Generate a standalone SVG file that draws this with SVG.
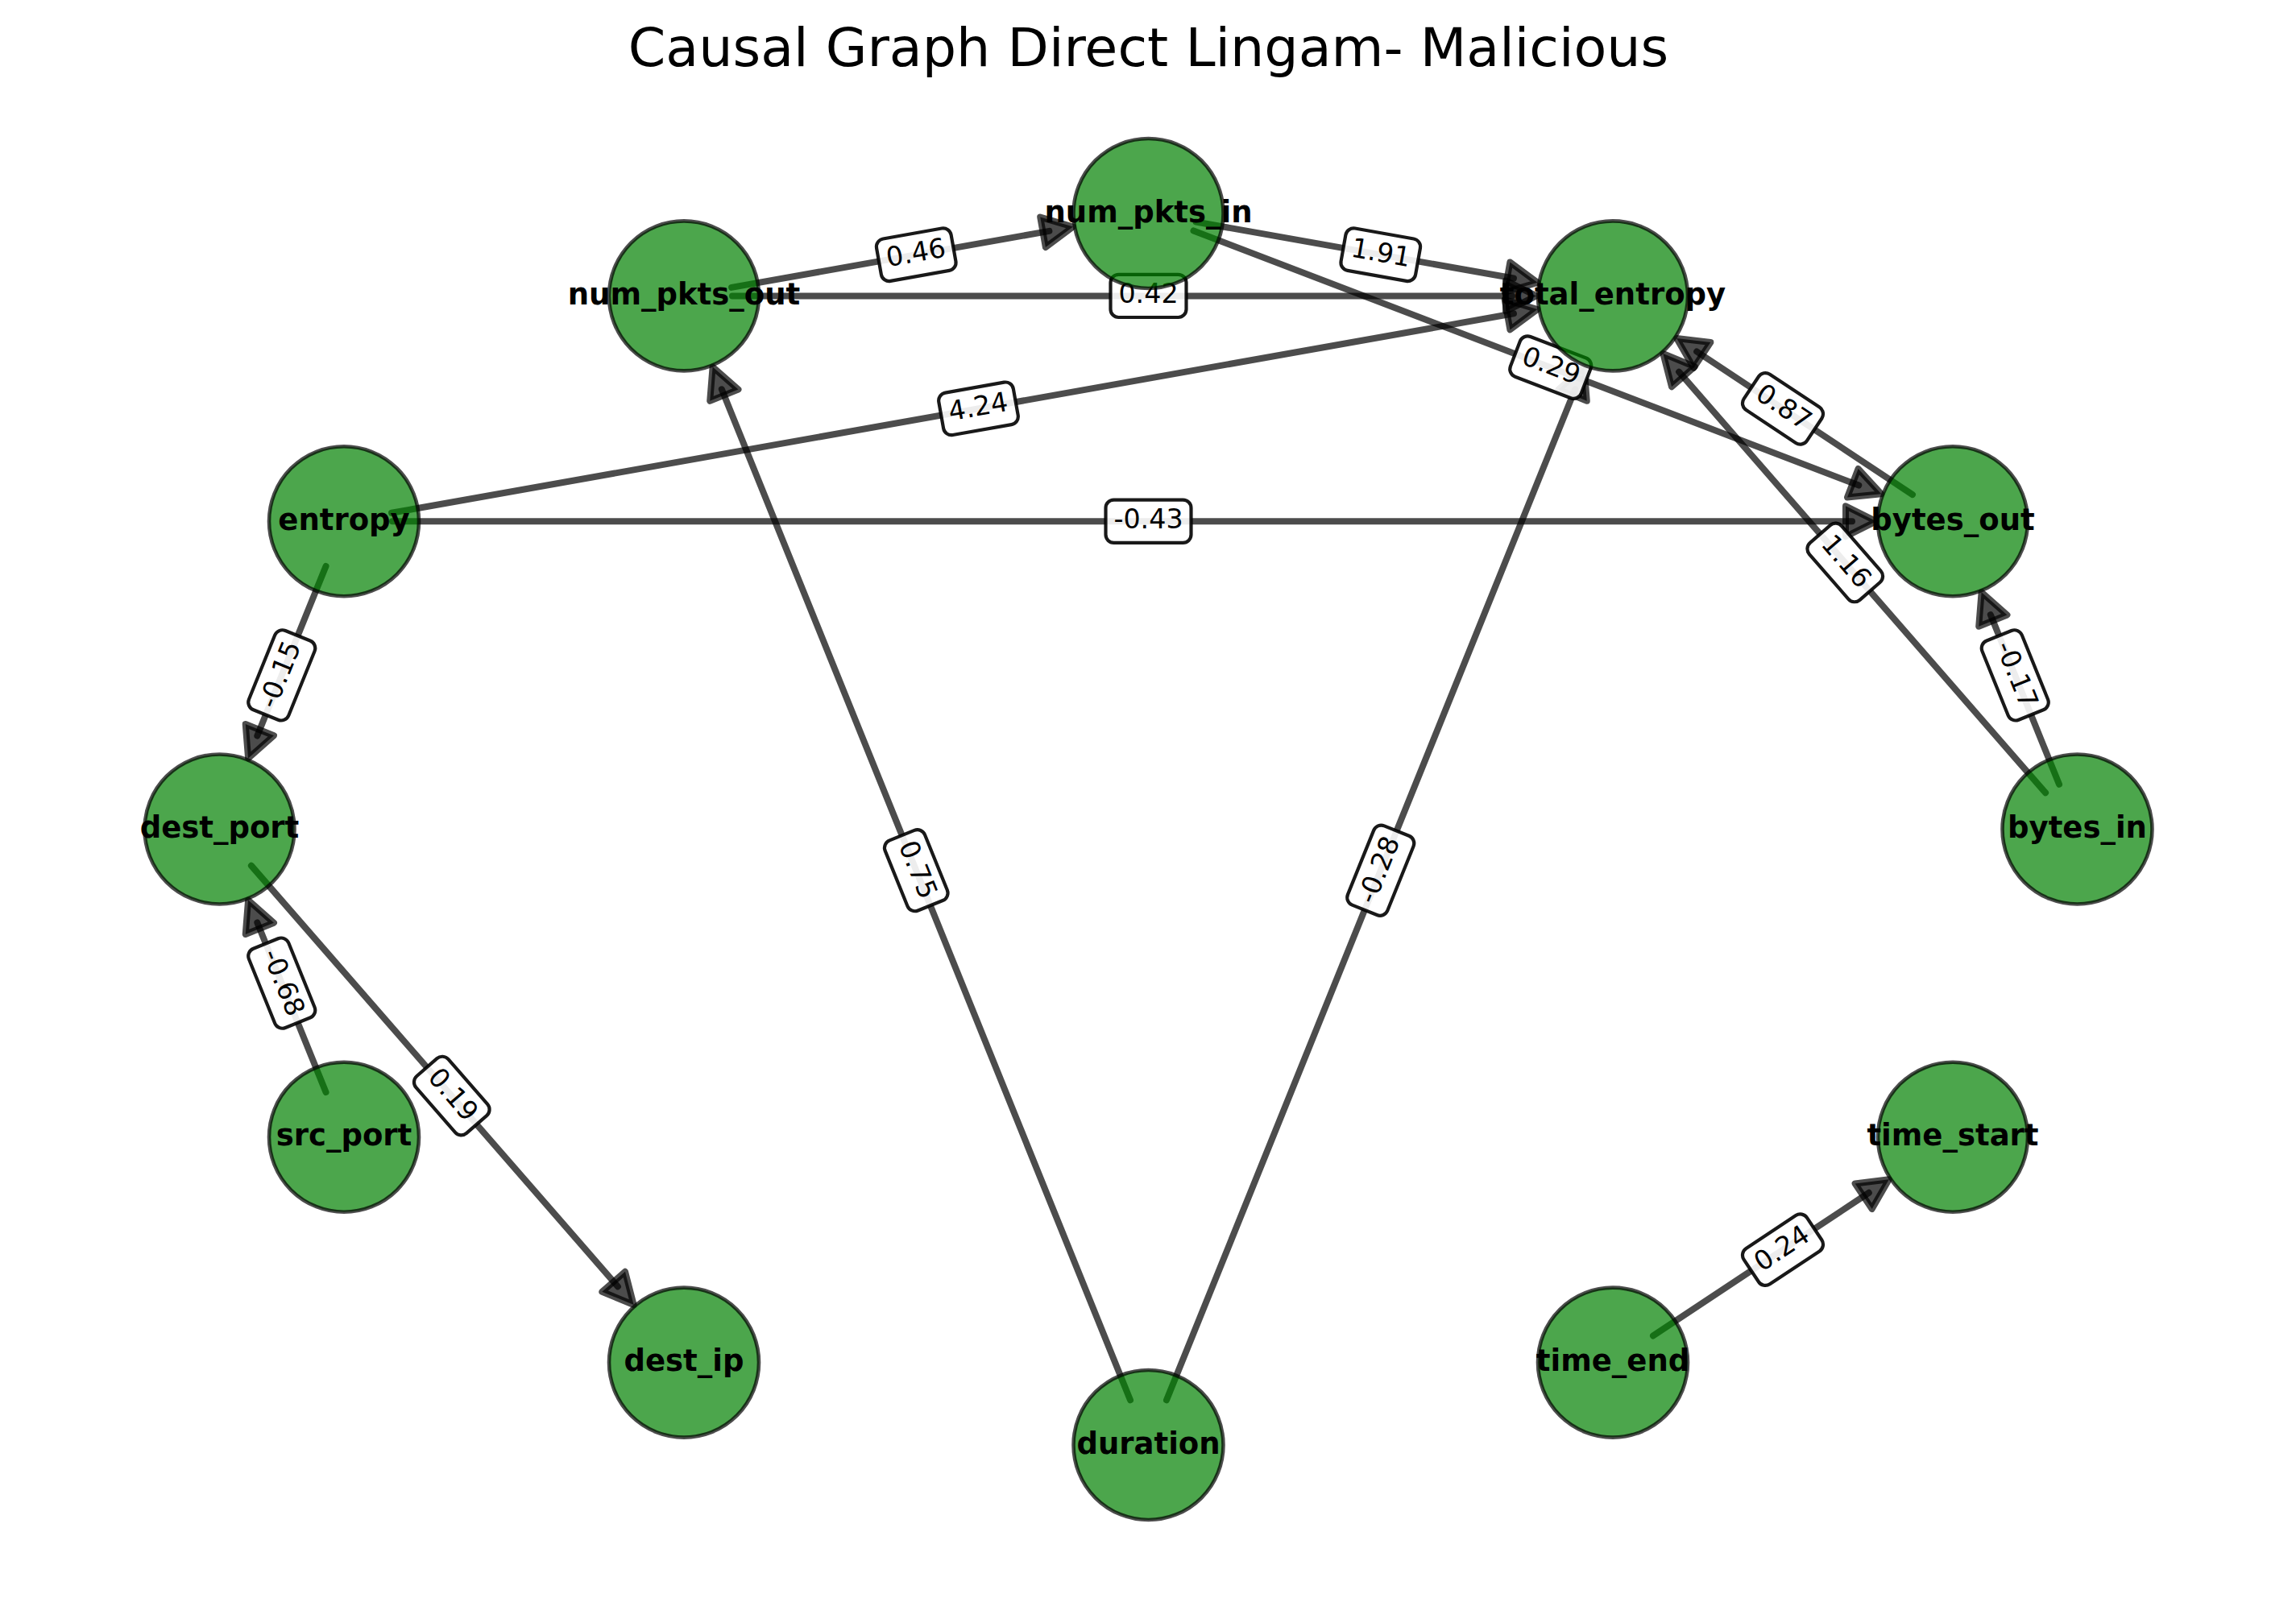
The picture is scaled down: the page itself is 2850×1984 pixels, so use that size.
<svg xmlns="http://www.w3.org/2000/svg" width="2850" height="1984" viewBox="0 0 2850 1984">
<style>
.edge{fill:none;stroke:#000;stroke-opacity:0.7;stroke-width:8;stroke-linecap:round;marker-end:url(#arr)}
.lbox{fill:#fff;fill-opacity:0.9;stroke:#000;stroke-width:4.2;stroke-opacity:0.9}
.ltxt{font-family:"DejaVu Sans",sans-serif;font-size:33.3px;fill:#000;text-anchor:middle}
.node{fill:#008000;fill-opacity:0.7;stroke:#000;stroke-opacity:0.7;stroke-width:4.6}
.ntxt{font-family:"DejaVu Sans",sans-serif;font-size:37px;font-weight:bold;fill:#000;text-anchor:middle}
.title{font-family:"DejaVu Sans",sans-serif;font-size:66.7px;fill:#000;text-anchor:middle}
</style>
<defs>
<marker id="arr" markerUnits="userSpaceOnUse" viewBox="-10 -30 60 60" markerWidth="60" markerHeight="60" refX="8" refY="0" orient="auto" overflow="visible">
<path d="M0,-19 L38,0 L0,19 Z" fill="#000" fill-opacity="0.7" stroke="#000" stroke-opacity="0.7" stroke-width="8" stroke-linejoin="round"/>
</marker>
</defs>
<rect width="2850" height="1984" fill="#fff"/>
<text class="title" x="1425.5" y="82">Causal Graph Direct Lingam- Malicious</text>
<g id="edges">
<line class="edge" x1="908.08" y1="356.92" x2="1302.42" y2="286.87"/>
<line class="edge" x1="1484.58" y1="275.50" x2="1878.92" y2="345.55"/>
<line class="edge" x1="909" y1="367.42" x2="1877" y2="367.42"/>
<line class="edge" x1="1481.53" y1="286.45" x2="2307.26" y2="602.56"/>
<line class="edge" x1="486.07" y1="636.75" x2="1878.93" y2="389.29"/>
<line class="edge" x1="2373.99" y1="614.09" x2="2106.18" y2="436.50"/>
<line class="edge" x1="2539.10" y1="984.25" x2="2084.09" y2="461.69"/>
<line class="edge" x1="487" y1="647.25" x2="2299" y2="647.25"/>
<line class="edge" x1="2556.02" y1="973.87" x2="2470.84" y2="763.14"/>
<line class="edge" x1="404.52" y1="702.88" x2="319.34" y2="913.61"/>
<line class="edge" x1="404.52" y1="1356.12" x2="319.34" y2="1145.39"/>
<line class="edge" x1="311.90" y1="1074.75" x2="766.91" y2="1597.33"/>
<line class="edge" x1="1403.02" y1="1738.37" x2="895.84" y2="483.32"/>
<line class="edge" x1="1447.98" y1="1738.37" x2="1955.16" y2="483.32"/>
<line class="edge" x1="2052.01" y1="1658.44" x2="2319.82" y2="1480.84"/>
</g>
<g id="edge-labels">
<g transform="translate(1137.25,316.21) rotate(-10.07)"><rect class="lbox" x="-47" y="-26.6" width="94" height="53.2" rx="10"/><text class="ltxt" y="8.7">0.46</text></g>
<g transform="translate(1713.75,316.21) rotate(10.07)"><rect class="lbox" x="-47" y="-26.6" width="94" height="53.2" rx="10"/><text class="ltxt" y="8.7">1.91</text></g>
<g transform="translate(1425.5,367.42)"><rect class="lbox" x="-47" y="-26.6" width="94" height="53.2" rx="10"/><text class="ltxt" y="8.7">0.42</text></g>
<g transform="translate(1924.75,456.13) rotate(20.95)"><rect class="lbox" x="-47" y="-26.6" width="94" height="53.2" rx="10"/><text class="ltxt" y="8.7">0.29</text></g>
<g transform="translate(1214.5,507.34) rotate(-10.07)"><rect class="lbox" x="-47" y="-26.6" width="94" height="53.2" rx="10"/><text class="ltxt" y="8.7">4.24</text></g>
<g transform="translate(2213,507.34) rotate(33.55)"><rect class="lbox" x="-47" y="-26.6" width="94" height="53.2" rx="10"/><text class="ltxt" y="8.7">0.87</text></g>
<g transform="translate(2290.25,698.46) rotate(48.95)"><rect class="lbox" x="-47" y="-26.6" width="94" height="53.2" rx="10"/><text class="ltxt" y="8.7">1.16</text></g>
<g transform="translate(1425.5,647.25)"><rect class="lbox" x="-53" y="-26.6" width="106" height="53.2" rx="10"/><text class="ltxt" y="8.7">-0.43</text></g>
<g transform="translate(2501.25,838.38) rotate(67.99)"><rect class="lbox" x="-53" y="-26.6" width="106" height="53.2" rx="10"/><text class="ltxt" y="8.7">-0.17</text></g>
<g transform="translate(349.75,838.38) rotate(-67.99)"><rect class="lbox" x="-53" y="-26.6" width="106" height="53.2" rx="10"/><text class="ltxt" y="8.7">-0.15</text></g>
<g transform="translate(349.75,1220.63) rotate(67.99)"><rect class="lbox" x="-53" y="-26.6" width="106" height="53.2" rx="10"/><text class="ltxt" y="8.7">-0.68</text></g>
<g transform="translate(560.75,1360.54) rotate(48.95)"><rect class="lbox" x="-47" y="-26.6" width="94" height="53.2" rx="10"/><text class="ltxt" y="8.7">0.19</text></g>
<g transform="translate(1137.25,1080.71) rotate(67.99)"><rect class="lbox" x="-47" y="-26.6" width="94" height="53.2" rx="10"/><text class="ltxt" y="8.7">0.75</text></g>
<g transform="translate(1713.75,1080.71) rotate(-67.99)"><rect class="lbox" x="-53" y="-26.6" width="106" height="53.2" rx="10"/><text class="ltxt" y="8.7">-0.28</text></g>
<g transform="translate(2213,1551.67) rotate(-33.55)"><rect class="lbox" x="-47" y="-26.6" width="94" height="53.2" rx="10"/><text class="ltxt" y="8.7">0.24</text></g>
</g>
<g id="node-bytes_in"><circle class="node" cx="2578.5" cy="1029.5" r="93"/><text class="ntxt" x="2578.5" y="1040">bytes_in</text></g>
<g id="node-bytes_out"><circle class="node" cx="2424" cy="647.25" r="93"/><text class="ntxt" x="2424" y="657.75">bytes_out</text></g>
<g id="node-total_entropy"><circle class="node" cx="2002" cy="367.42" r="93"/><text class="ntxt" x="2002" y="377.92">total_entropy</text></g>
<g id="node-num_pkts_in"><circle class="node" cx="1425.5" cy="265" r="93"/><text class="ntxt" x="1425.5" y="275.5">num_pkts_in</text></g>
<g id="node-num_pkts_out"><circle class="node" cx="849" cy="367.42" r="93"/><text class="ntxt" x="849" y="377.92">num_pkts_out</text></g>
<g id="node-entropy"><circle class="node" cx="427" cy="647.25" r="93"/><text class="ntxt" x="427" y="657.75">entropy</text></g>
<g id="node-dest_port"><circle class="node" cx="272.5" cy="1029.5" r="93"/><text class="ntxt" x="272.5" y="1040">dest_port</text></g>
<g id="node-src_port"><circle class="node" cx="427" cy="1411.75" r="93"/><text class="ntxt" x="427" y="1422.25">src_port</text></g>
<g id="node-dest_ip"><circle class="node" cx="849" cy="1691.58" r="93"/><text class="ntxt" x="849" y="1702.08">dest_ip</text></g>
<g id="node-duration"><circle class="node" cx="1425.5" cy="1794" r="93"/><text class="ntxt" x="1425.5" y="1804.5">duration</text></g>
<g id="node-time_end"><circle class="node" cx="2002" cy="1691.58" r="93"/><text class="ntxt" x="2002" y="1702.08">time_end</text></g>
<g id="node-time_start"><circle class="node" cx="2424" cy="1411.75" r="93"/><text class="ntxt" x="2424" y="1422.25">time_start</text></g>
</svg>
